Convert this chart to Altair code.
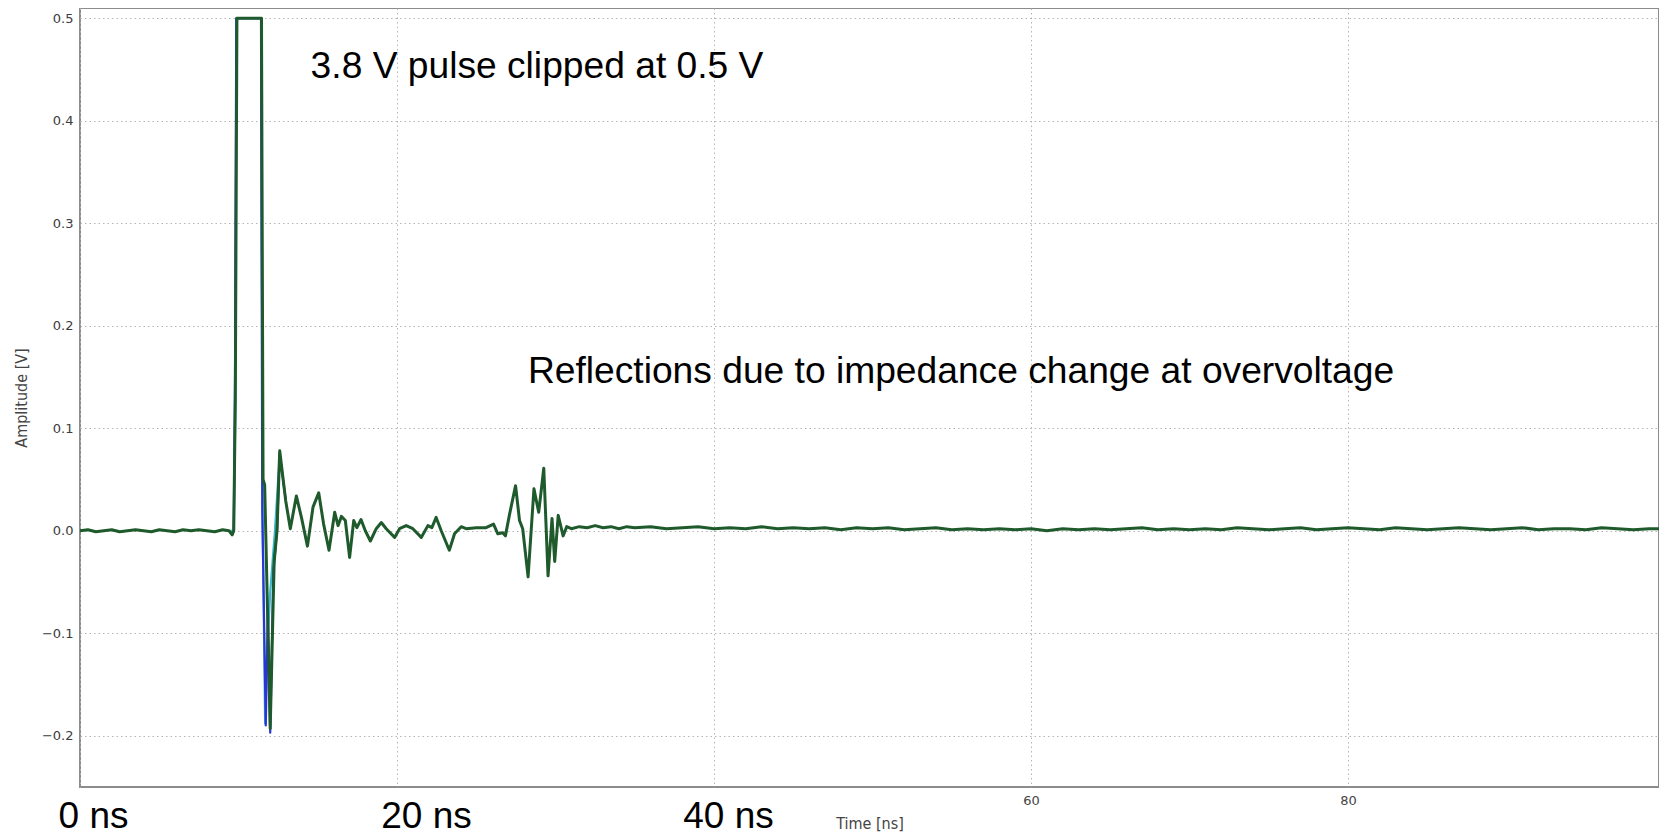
import altair as alt
import pandas as pd

# ---- main (green) trace: time [ns], amplitude [V] ----
green_time = [0.0, 0.5, 1.0, 1.5, 2.0, 2.5, 3.0, 3.5, 4.0, 4.5, 5.0, 5.5, 6.0, 6.5, 7.0, 7.5,
              8.0, 8.5, 9.0, 9.4, 9.6, 9.7, 9.8, 9.9, 11.45, 11.55, 11.65, 12.0, 12.25, 12.43,
              12.6, 12.98, 13.27, 13.65, 13.97, 14.35, 14.70, 15.06, 15.37, 15.71, 16.07, 16.28,
              16.49, 16.74, 17.01, 17.27, 17.47, 17.73, 18.0, 18.32, 18.69, 19.01, 19.32, 19.85,
              20.16, 20.58, 21.0, 21.53, 21.95, 22.2, 22.47, 22.79, 23.3, 23.63, 24.05, 24.36,
              25.0, 25.62, 26.09, 26.36, 26.67, 26.84, 27.1, 27.48, 27.73, 27.93, 28.27, 28.64,
              28.94, 29.26, 29.53, 29.78, 29.95, 30.17, 30.48, 30.71, 31.0, 31.5, 32.0, 32.5,
              33.0, 33.5, 34.0, 34.5, 35.0, 36.0, 37.0, 38.0, 39.0, 40.0, 41.0, 42.0, 43.0, 44.0,
              45.0, 46.0, 47.0, 48.0, 49.0, 50.0, 51.0, 52.0, 53.0, 54.0, 55.0, 56.0, 57.0, 58.0,
              59.0, 60.0, 61.0, 62.0, 63.0, 64.0, 65.0, 66.0, 67.0, 68.0, 69.0, 70.0, 71.0, 72.0,
              73.0, 74.0, 75.0, 76.0, 77.0, 78.0, 79.0, 80.0, 81.0, 82.0, 83.0, 84.0, 85.0, 86.0,
              87.0, 88.0, 89.0, 90.0, 91.0, 92.0, 93.0, 94.0, 95.0, 96.0, 97.0, 98.0, 99.0, 100.0]
green_amp = [0.000, 0.001, -0.001, 0.000, 0.001, -0.001, 0.000, 0.001, 0.000, -0.001, 0.001, 0.000,
             -0.001, 0.001, 0.000, 0.001, 0.000, -0.001, 0.001, 0.000, -0.004, 0.000, 0.130, 0.500,
             0.500, 0.050, 0.045, -0.193, -0.030, 0.000, 0.078, 0.029, 0.002, 0.034, 0.013, -0.015,
             0.023, 0.037, 0.0065, -0.019, 0.018, 0.005, 0.014, 0.010, -0.026, 0.010, 0.003, 0.011,
             0.000, -0.010, 0.002, 0.008, 0.002, -0.0065, 0.002, 0.005, 0.002, -0.0065, 0.005, 0.003,
             0.013, 0.000, -0.019, -0.003, 0.004, 0.002, 0.003, 0.003, 0.0065, -0.003, -0.002, -0.005,
             0.016, 0.044, 0.010, 0.002, -0.045, 0.041, 0.018, 0.061, -0.044, 0.012, -0.030, 0.015,
             -0.005, 0.004, 0.002, 0.004, 0.003, 0.005, 0.003, 0.004, 0.002, 0.004, 0.003, 0.004,
             0.002, 0.003, 0.004, 0.002, 0.003, 0.002, 0.004, 0.002, 0.003, 0.002, 0.003, 0.001,
             0.003, 0.002, 0.003, 0.001, 0.002, 0.003, 0.001, 0.002, 0.001, 0.002, 0.001, 0.002,
             0.000, 0.002, 0.001, 0.002, 0.001, 0.002, 0.003, 0.001, 0.002, 0.001, 0.002, 0.001,
             0.003, 0.002, 0.001, 0.002, 0.003, 0.001, 0.002, 0.003, 0.002, 0.001, 0.003, 0.002,
             0.001, 0.002, 0.003, 0.002, 0.001, 0.002, 0.003, 0.001, 0.002, 0.002, 0.001, 0.003,
             0.002, 0.001, 0.002, 0.002]

# ---- secondary traces around the pulse (blue, cyan) ----
blue_time = [9.4, 9.6, 9.7, 9.78, 9.86, 11.42, 11.5, 11.72, 11.85, 12.0, 12.2, 12.43, 12.6, 12.98]
blue_amp = [0.000, -0.003, 0.000, 0.150, 0.500, 0.500, 0.020, -0.190, -0.080, -0.197, -0.040,
            0.000, 0.075, 0.030]
cyan_time = [9.5, 9.7, 9.8, 9.88, 11.44, 11.52, 11.68, 11.8, 12.0, 12.3, 12.6]
cyan_amp = [0.000, 0.000, 0.120, 0.500, 0.500, 0.010, -0.188, -0.120, -0.060, 0.000, 0.074]

# ---- annotations ----
note_text = ["3.8 V pulse clipped at 0.5 V", "Reflections due to impedance change at overvoltage"]
note_time = [14.55, 28.26]
note_amp = [0.4527, 0.155]

x_ticks = [0, 20, 40, 60, 80]
y_ticks = [-0.2, -0.1, 0.0, 0.1, 0.2, 0.3, 0.4, 0.5]

green = pd.DataFrame({"t": green_time, "v": green_amp})
blue = pd.DataFrame({"t": blue_time, "v": blue_amp})
cyan = pd.DataFrame({"t": cyan_time, "v": cyan_amp})
notes = pd.DataFrame({"text": note_text, "t": note_time, "v": note_amp})

big = "datum.value <= 40"

x_axis = alt.Axis(
    values=x_ticks,
    title="Time [ns]",
    titleFont="DejaVu Sans Condensed",
    titleFontSize=16,
    titleFontWeight="normal",
    titleColor="#444444",
    titleY=36,
    titleBaseline="middle",
    labelExpr="datum.value <= 40 ? datum.value + ' ns' : datum.label",
    labelFont={"condition": {"test": big, "value": "Liberation Sans"}, "value": "DejaVu Sans"},
    labelFontSize={"condition": {"test": big, "value": 37}, "value": 13},
    labelColor={"condition": {"test": big, "value": "#000000"}, "value": "#444444"},
    labelPadding={"condition": {"test": big, "value": 11}, "value": 7},
    labelOffset={"condition": [{"test": "datum.value == 20", "value": 29},
                               {"test": "datum.value == 40", "value": 14},
                               {"test": big, "value": 13}], "value": 0},
    labelOverlap=False,
    labelFlush=False,
    labelBound=False,
    ticks=False,
    domain=False,
    grid=True,
    gridColor="#b5b5b5",
    gridDash=[1.5, 3],
    gridWidth=1,
)

y_axis = alt.Axis(
    values=y_ticks,
    format=".1f",
    title="Amplitude [V]",
    titleFont="DejaVu Sans Condensed",
    titleFontSize=16,
    titleFontWeight="normal",
    titleColor="#444444",
    titleX=-59,
    titleBaseline="middle",
    labelFont="DejaVu Sans",
    labelFontSize=13,
    labelColor="#3c3c3c",
    labelPadding=7,
    ticks=False,
    domain=False,
    grid=True,
    gridColor="#b5b5b5",
    gridDash=[1.5, 3],
    gridWidth=1,
)

x_scale = alt.Scale(domain=[0, 99.62], nice=False, zero=False)
y_scale = alt.Scale(domain=[-0.25, 0.51], nice=False, zero=False)

def trace(df, color, width):
    return alt.Chart(df).mark_line(color=color, strokeWidth=width, strokeJoin="round",
                                   clip=True).encode(
        x=alt.X("t:Q", scale=x_scale, axis=x_axis),
        y=alt.Y("v:Q", scale=y_scale, axis=y_axis),
    )

text_layer = alt.Chart(notes).mark_text(
    font="Liberation Sans", fontSize=37.2, color="#000000", align="left", baseline="middle"
).encode(
    x=alt.X("t:Q", scale=x_scale, axis=x_axis),
    y=alt.Y("v:Q", scale=y_scale, axis=y_axis),
    text="text:N",
)

chart = alt.layer(
    trace(cyan, "#35b8c8", 2.2),
    trace(blue, "#2a35d8", 2.2),
    trace(green, "#1f5a2c", 3),
    text_layer,
).properties(
    width=1579,
    height=779,
    autosize=alt.AutoSizeParams(type="none"),
    padding={"left": 72, "top": 0, "right": 0, "bottom": 49},
    background="white",
).configure_view(
    stroke="#8c8c8c",
    strokeWidth=2,
)

chart.save("out.html", embed_options={"renderer": "svg", "actions": False})
